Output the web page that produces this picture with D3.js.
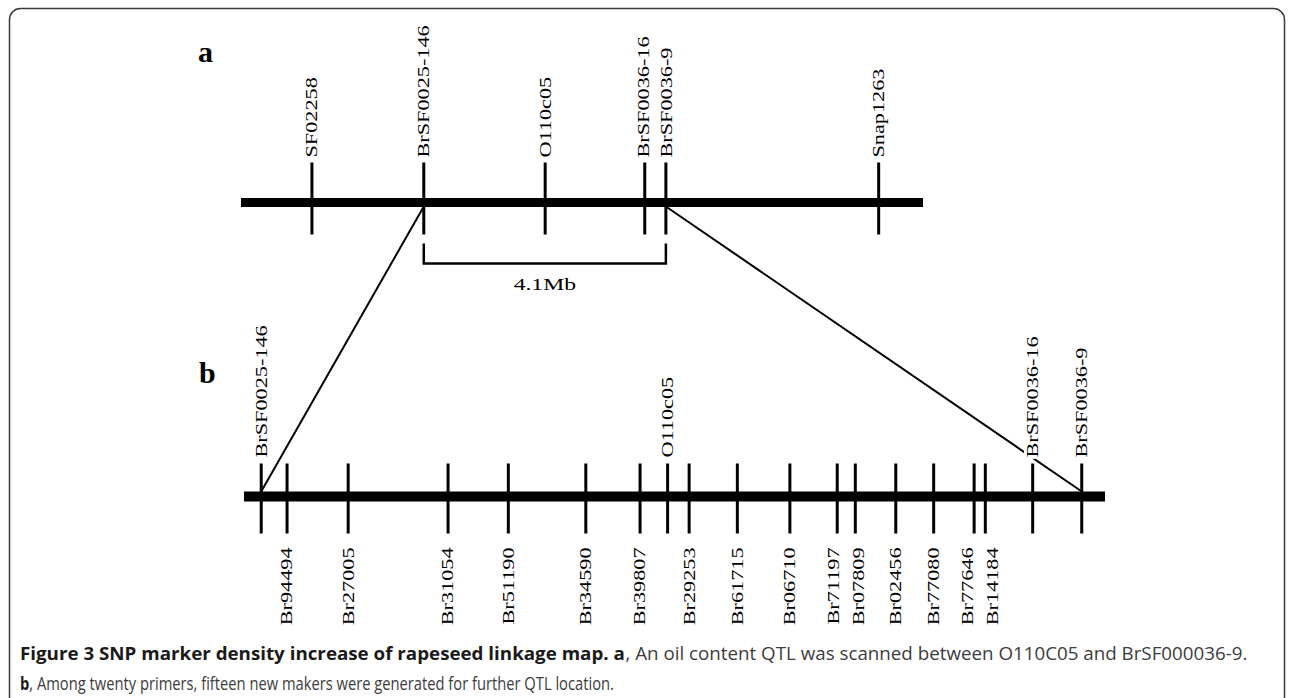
<!DOCTYPE html>
<html>
<head>
<meta charset="utf-8">
<script src="https://cdn.jsdelivr.net/npm/d3@7"></script>
<style>
  body { margin: 0; background: #fff; }
</style>
</head>
<body>
<div id="wrapper"></div>
<script>
// panel a: markers on the original linkage group (position along map, 0-100)
const aMarkers = ['SF02258', 'BrSF0025-146', 'O110c05', 'BrSF0036-16', 'BrSF0036-9', 'Snap1263']
const aPositions = [10.4, 26.8, 44.6, 59.2, 62.3, 93.5]

// panel b: zoomed interval, markers labelled above the bar
const bTopMarkers = ['BrSF0025-146', 'O110c05', 'BrSF0036-16', 'BrSF0036-9']
const bTopPositions = [2.0, 49.2, 91.6, 97.3]

// panel b: new SNP markers labelled below the bar
const bNewMarkers = ['Br94494', 'Br27005', 'Br31054', 'Br51190', 'Br34590', 'Br39807', 'Br29253',
  'Br61715', 'Br06710', 'Br71197', 'Br07809', 'Br02456', 'Br77080', 'Br77646', 'Br14184']
const bNewPositions = [5.0, 12.1, 23.7, 30.7, 39.7, 46.0, 51.7, 57.3, 63.4, 68.9, 71.0, 75.7, 80.1, 84.8, 86.1]

const intervalLabel = '4.1Mb'
const captionLine1 = [
  { text: 'Figure 3 SNP marker density increase of rapeseed linkage map. a', bold: true },
  { text: ', An oil content QTL was scanned between O110C05 and BrSF000036-9.', bold: false }
]
const captionLine2 = [
  { text: 'b', bold: true },
  { text: ', Among twenty primers, fifteen new makers were generated for further QTL location.', bold: false }
]

//dimensions
const width = 1290
const height = 698

const svg = d3.select('#wrapper')
  .append('svg')
    .attr('width', width)
    .attr('height', height)

//frame
svg.append('rect')
  .attr('x', 9.5).attr('y', 8.5)
  .attr('width', 1275).attr('height', 700)
  .attr('rx', 11)
  .attr('fill', 'none')
  .attr('stroke', '#3a3a3a')
  .attr('stroke-width', 1.5)

//scales
const xA = d3.scaleLinear().domain([0, 100]).range([241, 923])
const xB = d3.scaleLinear().domain([0, 100]).range([244, 1105])

const yA = 202.5
const yB = 496.5

const serif = '"Liberation Serif", "Times New Roman", serif'
const stretch = 1.39

// spread labels that sit too close to each other
function spread(xs, minGap) {
  const out = xs.slice()
  for (let i = 1; i < out.length; i++) {
    if (out[i] - out[i - 1] < minGap) {
      const mid = (out[i] + out[i - 1]) / 2
      out[i - 1] = mid - minGap / 2
      out[i] = mid + minGap / 2
    }
  }
  return out
}

function rotatedLabel(g, x, y, text, anchor) {
  return g.append('text')
    .attr('transform', `translate(${x},${y}) rotate(-90) scale(${stretch},1)`)
    .attr('text-anchor', anchor)
    .attr('dominant-baseline', 'central')
    .style('font-family', serif)
    .style('font-size', '16px')
    .attr('fill', '#000')
    .text(text)
}

//connecting lines (drawn first so labels can mask them)
const links = svg.append('g')
links.append('line')
  .attr('x1', xA(aPositions[1])).attr('y1', yA + 4)
  .attr('x2', xB(bTopPositions[0])).attr('y2', yB - 5)
  .attr('stroke', '#000').attr('stroke-width', 2)
links.append('line')
  .attr('x1', xA(aPositions[4])).attr('y1', yA + 4)
  .attr('x2', xB(bTopPositions[3])).attr('y2', yB - 5)
  .attr('stroke', '#000').attr('stroke-width', 2)

//panel a
const gA = svg.append('g')
gA.append('text')
  .attr('x', 198).attr('y', 62)
  .style('font-family', serif).style('font-weight', 'bold').style('font-size', '30px')
  .text('a')

gA.append('line')
  .attr('x1', xA.range()[0]).attr('x2', xA.range()[1])
  .attr('y1', yA).attr('y2', yA)
  .attr('stroke', '#000').attr('stroke-width', 9)

gA.selectAll('.tick')
  .data(aPositions)
  .enter().append('line')
    .attr('x1', d => xA(d)).attr('x2', d => xA(d))
    .attr('y1', yA - 40).attr('y2', yA + 32)
    .attr('stroke', '#000').attr('stroke-width', 3)

const aLabelX = spread(aPositions.map(xA), 23)
aMarkers.forEach((m, i) => rotatedLabel(gA, aLabelX[i], yA - 45, m, 'start'))

//interval bracket
const bx0 = xA(aPositions[1])
const bx1 = xA(aPositions[4])
gA.append('path')
  .attr('d', `M${bx0},${yA + 41}V${yA + 61}H${bx1}V${yA + 41}`)
  .attr('fill', 'none').attr('stroke', '#000').attr('stroke-width', 2.5)
gA.append('text')
  .attr('transform', `translate(${(bx0 + bx1) / 2},${yA + 87}) scale(${stretch},1)`)
  .attr('text-anchor', 'middle')
  .style('font-family', serif).style('font-size', '17px')
  .text(intervalLabel)

//panel b
const gB = svg.append('g')
gB.append('text')
  .attr('x', 199).attr('y', 383)
  .style('font-family', serif).style('font-weight', 'bold').style('font-size', '30px')
  .text('b')

gB.append('line')
  .attr('x1', xB.range()[0]).attr('x2', xB.range()[1])
  .attr('y1', yB).attr('y2', yB)
  .attr('stroke', '#000').attr('stroke-width', 10)

const allB = bTopPositions.concat(bNewPositions)
gB.selectAll('.tick')
  .data(allB)
  .enter().append('line')
    .attr('x1', d => xB(d)).attr('x2', d => xB(d))
    .attr('y1', yB - 33).attr('y2', yB + 37)
    .attr('stroke', '#000').attr('stroke-width', 3)

bTopMarkers.forEach((m, i) => {
  const t = rotatedLabel(gB, xB(bTopPositions[i]), yB - 39, m, 'start')
  const bb = t.node().getBBox()
  // white box behind the label, cuts the connecting line like the original
  gB.insert('rect', () => t.node())
    .attr('transform', t.attr('transform'))
    .attr('x', bb.x - 1).attr('y', bb.y)
    .attr('width', bb.width + 2).attr('height', bb.height)
    .attr('fill', '#fff')
})

const bLabelX = spread(bNewPositions.map(xB), 25)
bNewMarkers.forEach((m, i) => rotatedLabel(gB, bLabelX[i], yB + 51, m, 'end'))

//caption: pieces laid out side by side, then squeezed horizontally to fit
const sans = '"Open Sans", "Noto Sans", sans-serif'
function captionLine(parts, y, targetWidth) {
  const g = svg.append('g')
  let x = 0
  parts.forEach(p => {
    const t = g.append('text')
      .attr('x', x).attr('y', 0)
      .style('font-family', sans)
      .style('font-size', '18px')
      .style('font-weight', p.bold ? 'bold' : 'normal')
      .attr('fill', p.bold ? '#1a1a1a' : '#3c3c3c')
      .text(p.text)
    x += t.node().getComputedTextLength()
  })
  g.attr('transform', `translate(20,${y}) scale(${targetWidth / x},1)`)
}
captionLine(captionLine1, 660, 1228)
captionLine(captionLine2, 690, 594)
</script>
</body>
</html>
